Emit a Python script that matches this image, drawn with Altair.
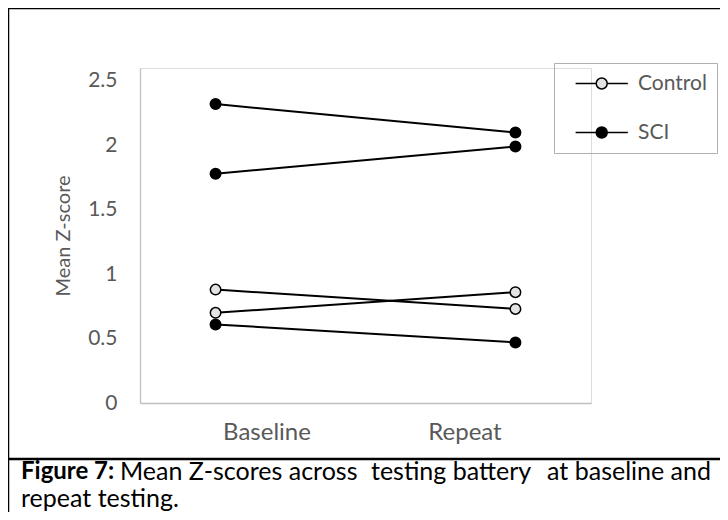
import altair as alt
import pandas as pd

timepoints = ["Baseline", "Repeat"]
series_names = ["SCI A", "SCI B", "SCI C", "Control A", "Control B"]
series_groups = ["SCI", "SCI", "SCI", "Control", "Control"]
baseline_values = [2.32, 1.78, 0.61, 0.88, 0.70]
repeat_values = [2.10, 1.99, 0.47, 0.73, 0.86]
group_names = ["Control", "SCI"]
group_fills = ["#e3e3e3", "#000000"]

rows = []
for name, grp, b, r in zip(series_names, series_groups, baseline_values, repeat_values):
    rows.append({"series": name, "group": grp, "time": timepoints[0], "value": b})
    rows.append({"series": name, "group": grp, "time": timepoints[1], "value": r})
df = pd.DataFrame(rows)

FONT = "Lato"
GREY = "#595959"

x_pts = alt.X("time:N", sort=timepoints, scale=alt.Scale(type="point", padding=0.252), axis=None)
y_enc = alt.Y(
    "value:Q",
    scale=alt.Scale(domain=[0, 2.5]),
    axis=alt.Axis(
        values=[0, 0.5, 1, 1.5, 2, 2.5], format=".1~f", grid=False, ticks=False,
        domainColor="#bfbfbf", domainWidth=1.3,
        labelColor=GREY, labelFont=FONT, labelFontSize=21, labelPadding=23,
        title="Mean Z-score", titleColor=GREY, titleFont=FONT, titleFontSize=20,
        titleFontWeight="normal", titlePadding=14,
    ),
)

base = alt.Chart(df)

lines = base.mark_line(color="black", strokeWidth=2).encode(
    x=x_pts, y=y_enc, detail="series:N"
)

legend_path = "M0.2,0L3.95,0M5.95,0L9.7,0M3.95,0A1,1,0,1,1,5.95,0A1,1,0,1,1,3.95,0Z"

points = base.mark_circle(size=110, stroke="black", strokeWidth=1.5, opacity=1).encode(
    x=x_pts,
    y=alt.Y("value:Q"),
    fill=alt.Fill(
        "group:N",
        scale=alt.Scale(domain=group_names, range=group_fills),
        legend=alt.Legend(
            title=None, orient="none", legendX=414, legendY=-5,
            symbolType=legend_path, symbolSize=121, symbolStrokeColor="black",
            symbolStrokeWidth=1.5, symbolOpacity=1,
            labelFont=FONT, labelFontSize=21, labelColor=GREY, labelOffset=53,
            strokeColor="#b0b0b0", padding=10, rowPadding=27,
        ),
    ),
)

x_axis_layer = base.mark_point(opacity=0).encode(
    x=alt.X(
        "time:N", sort=timepoints,
        scale=alt.Scale(type="point", padding=0.639),
        axis=alt.Axis(
            orient="bottom", title=None, ticks=False, labelAngle=0,
            domainColor="#bfbfbf", domainWidth=1.3,
            labelColor=GREY, labelFont=FONT, labelFontSize=24, labelPadding=17,
        ),
    ),
    y=alt.Y("value:Q"),
)

one = pd.DataFrame({"k": [0]})
frame_top = alt.Chart(one).mark_rule(color="black", strokeWidth=2.5).encode(
    x=alt.value(-132), x2=alt.value(700), y=alt.value(-60)
)
frame_left = alt.Chart(one).mark_rule(color="black", strokeWidth=2.5).encode(
    x=alt.value(-132), y=alt.value(-60), y2=alt.value(460)
)
divider = alt.Chart(one).mark_rule(color="black", strokeWidth=2.5).encode(
    x=alt.value(-132), x2=alt.value(700), y=alt.value(391)
)

cap_style = dict(baseline="middle", font=FONT, fontSize=25, color="black")
caption_bold = alt.Chart(one).mark_text(
    align="left", baseline="middle", font=FONT, fontSize=24, fontWeight="bold", color="black"
).encode(x=alt.value(-119), y=alt.value(404), text=alt.value("Figure 7:"))
caption_a = alt.Chart(one).mark_text(align="left", **cap_style).encode(
    x=alt.value(-20), y=alt.value(404), text=alt.value("Mean Z-scores across"))
caption_b = alt.Chart(one).mark_text(align="left", **cap_style).encode(
    x=alt.value(231), y=alt.value(404), text=alt.value("testing battery"))
caption_c = alt.Chart(one).mark_text(align="right", **cap_style).encode(
    x=alt.value(571), y=alt.value(404), text=alt.value("at baseline and"))
caption_line2 = alt.Chart(one).mark_text(align="left", **cap_style).encode(
    x=alt.value(-119), y=alt.value(431), text=alt.value("repeat testing."))

chart = alt.layer(
    lines, points, x_axis_layer, frame_top, frame_left, divider,
    caption_bold, caption_a, caption_b, caption_c, caption_line2,
).resolve_scale(x="independent").properties(
    width=451, height=335,
    autosize=alt.AutoSizeParams(type="none"),
    padding={"left": 132, "top": 60, "right": 129, "bottom": 109},
).configure_view(stroke=None).configure(background="white")

chart.save("out.html", embed_options={"renderer": "svg", "actions": False})
